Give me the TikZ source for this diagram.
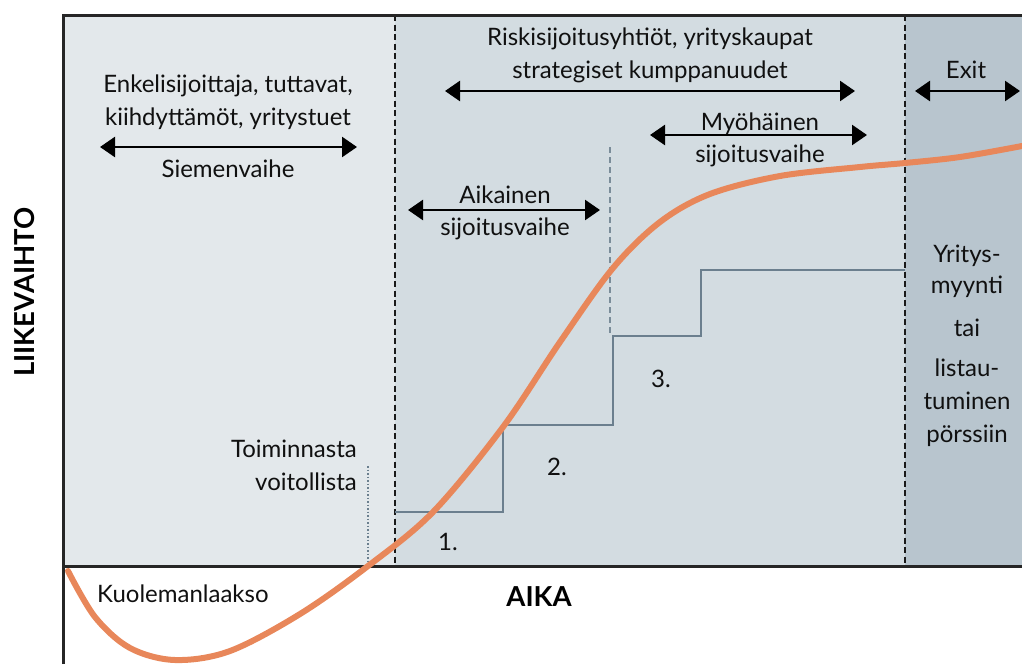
\documentclass[tikz,border=0pt]{standalone}
\usepackage{fontspec}
\setmainfont{Lato}
\usetikzlibrary{arrows.meta}
\definecolor{bgA}{HTML}{E3E8EB}
\definecolor{bgB}{HTML}{D3DCE1}
\definecolor{bgC}{HTML}{B8C5CE}
\definecolor{stepc}{HTML}{6B7F8E}
\definecolor{curvec}{HTML}{E8875A}
\definecolor{txt}{HTML}{101010}
\begin{document}
\begin{tikzpicture}[x=1pt,y=-1pt,
  lbl/.style={font=\fontsize{24}{30}\selectfont, inner sep=0pt, text=txt, anchor=base},
  bigl/.style={font=\fontsize{27.5}{30}\selectfont\bfseries, inner sep=0pt, text=black, anchor=base},
  dbl/.style={{Triangle[length=15pt,width=20pt]}-{Triangle[length=15pt,width=20pt]}, line width=2.5pt},
  frame/.style={line width=3pt, black!85},
  phase/.style={line width=2.6pt, black!90, dash pattern=on 6pt off 3.5pt},
  stepl/.style={line width=2.5pt, stepc},
  curve/.style={line width=6pt, curvec, line cap=round}]
\useasboundingbox (0,0) rectangle (1022,664);
% backgrounds
\fill[bgA] (63,15) rectangle (395,566);
\fill[bgB] (395,15) rectangle (905,566);
\fill[bgC] (905,15) rectangle (1022,566);
% dashed phase boundaries
\coordinate (d1t) at (395,15); \coordinate (d1b) at (395,566);
\coordinate (d2t) at (905,15); \coordinate (d2b) at (905,566);
\draw[phase] (d1t) -- (d1b);
\draw[phase] (d2t) -- (d2b);
% small dashed at 610
\coordinate (d3t) at (610,147); \coordinate (d3b) at (610,336);
\draw[line width=2pt, stepc!90, dash pattern=on 6pt off 4pt] (d3t) -- (d3b);
% dotted
\coordinate (dot1) at (368,466); \coordinate (dot2) at (368,566);
\draw[line width=1.8pt, stepc, dash pattern=on 1.5pt off 2pt] (dot1) -- (dot2);
% steps
\coordinate (s0) at (395,512);
\coordinate (s1) at (503,512);
\coordinate (s2) at (503,425);
\coordinate (s3) at (613,425);
\coordinate (s4) at (613,336);
\coordinate (s5) at (701,336);
\coordinate (s6) at (701,270);
\coordinate (s7) at (905,270);
\draw[stepl] (s0) -- (s1) -- (s2) -- (s3) -- (s4) -- (s5) -- (s6) -- (s7);
% frame
\coordinate (fl) at (63,664); \coordinate (ftl) at (63,15); \coordinate (ftr) at (1022,15);
\coordinate (bl) at (63,566); \coordinate (br) at (1022,566);
\draw[frame] (fl) -- (ftl) -- (ftr);
\draw[frame] (bl) -- (br);
% curve
\draw[curve] plot[smooth, tension=0.55] coordinates {(68,571) (95,617) (130,648) (175,660) (230,651) (300,614) (368,566) (433,512) (503,427) (560,342) (613,268) (660,222) (710,194) (780,176) (860,167) (905,163) (960,157) (1022,146)};
% arrows
\coordinate (a1l) at (100,147); \coordinate (a1r) at (357,147);
\draw[dbl] (a1l) -- (a1r);
\coordinate (a2l) at (445,91); \coordinate (a2r) at (855,91);
\draw[dbl] (a2l) -- (a2r);
\coordinate (a3l) at (915,91); \coordinate (a3r) at (1020,91);
\draw[dbl] (a3l) -- (a3r);
\coordinate (a4l) at (650,135); \coordinate (a4r) at (867,135);
\draw[dbl] (a4l) -- (a4r);
\coordinate (a5l) at (408,210); \coordinate (a5r) at (600,210);
\draw[dbl] (a5l) -- (a5r);
% texts
\node[lbl] (t1) at (228,92) {Enkelisijoittaja, tuttavat,};
\node[lbl] (t2) at (228,125) {kiihdyttämöt, yritystuet};
\node[lbl] (t3) at (228,177) {Siemenvaihe};
\node[lbl] (t4) at (650,45) {Riskisijoitusyhtiöt, yrityskaupat};
\node[lbl] (t5) at (650,78) {strategiset kumppanuudet};
\node[lbl] (t6) at (966,78) {Exit};
\node[lbl] (t7) at (760,130) {Myöhäinen};
\node[lbl] (t8) at (760,162) {sijoitusvaihe};
\node[lbl] (t9) at (505,203) {Aikainen};
\node[lbl] (t10) at (505,235) {sijoitusvaihe};
\node[lbl] (r1) at (967,262) {Yritys-};
\node[lbl] (r2) at (967,293) {myynti};
\node[lbl] (r3) at (967,336) {tai};
\node[lbl] (r4) at (967,376) {listau-};
\node[lbl] (r5) at (967,409) {tuminen};
\node[lbl] (r6) at (967,442) {pörssiin};
\node[lbl, anchor=base east] (v1) at (357,457) {Toiminnasta};
\node[lbl, anchor=base east] (v2) at (357,490) {voitollista};
\node[lbl] (n1) at (448,550) {1.};
\node[lbl] (n2) at (557,475) {2.};
\node[lbl] (n3) at (661,387) {3.};
\node[lbl, anchor=base west] (k) at (97,602) {Kuolemanlaakso};
\node[bigl] (aika) at (539,606) {AIKA};
\node[bigl, rotate=90] (lv) at (34,292) {LIIKEVAIHTO};
\end{tikzpicture}
\end{document}
